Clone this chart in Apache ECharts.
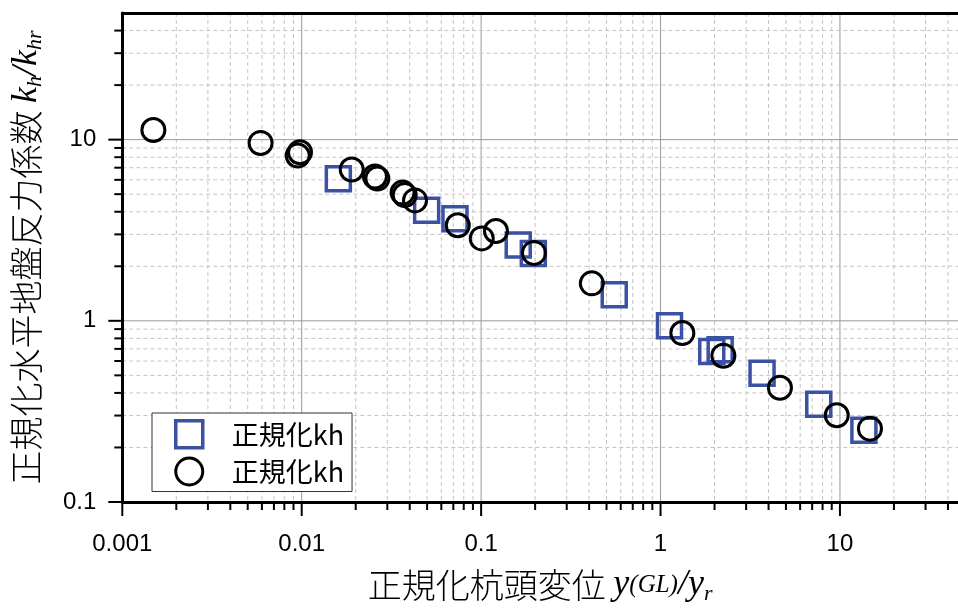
<!DOCTYPE html>
<html>
<head>
<meta charset="utf-8">
<script src="https://cdn.jsdelivr.net/npm/echarts@6/dist/echarts.min.js"></script>
<style>
  html, body { margin: 0; padding: 0; background: #fff; }
  #chart { width: 958px; height: 610px; }
</style>
</head>
<body>
<div id="chart"></div>
<script>
// 正規化kh (□)
const squareX = [0.016, 0.0497, 0.0715, 0.161, 0.1954, 0.552, 1.122, 1.93, 2.15, 3.68, 7.62, 13.6];
const squareY = [6.08, 4.07, 3.66, 2.62, 2.355, 1.394, 0.939, 0.678, 0.693, 0.514, 0.346, 0.249];
// 正規化kh (○)
const circleX = [0.00149, 0.0059, 0.0095, 0.00978, 0.019, 0.0256, 0.0264, 0.0365, 0.0375, 0.0428, 0.0741, 0.1008, 0.121, 0.197, 0.414, 1.323, 2.24, 4.63, 9.6, 14.7];
const circleY = [11.3, 9.59, 8.17, 8.52, 6.84, 6.26, 6.1, 5.1, 4.95, 4.62, 3.37, 2.85, 3.13, 2.37, 1.61, 0.856, 0.642, 0.427, 0.301, 0.254];

const xTicks = [0.001, 0.01, 0.1, 1, 10];
const xTickLabels = ['0.001', '0.01', '0.1', '1', '10'];
const yTicks = [0.1, 1, 10];
const yTickLabels = ['0.1', '1', '10'];
const minorSteps = [2, 3, 4, 5, 6, 7, 8, 9];
const xMax = 45.5, yMax = 50;

const seriesNames = ['正規化kh', '正規化kh '];

function minorOf(majors, max) {
  const out = [];
  majors.forEach(d => minorSteps.forEach(s => {
    const v = +(d * s).toPrecision(3);
    if (v < max) out.push(v);
  }));
  return out;
}
const xGuides = xTicks.map(v => [v, 1, 1]).concat(minorOf(xTicks, xMax).map(v => [v, 1, 0]));
const yGuides = yTicks.map(v => [1, v, 1]).concat(minorOf(yTicks, yMax).map(v => [1, v, 0]));

function labelFor(ticks, labels) {
  return v => {
    const i = ticks.findIndex(t => Math.abs(Math.log10(t) - Math.log10(v)) < 1e-6);
    return i >= 0 ? labels[i] : '';
  };
}

const majorGrid = { stroke: '#9a9a9a', lineWidth: 1 };
const minorGrid = { stroke: '#c4c4c4', lineWidth: 1, lineDash: [4, 3] };
const tickStyle = { stroke: '#000', lineWidth: 2 };

function renderXGuide(params, api) {
  const cs = params.coordSys;
  const x = api.coord([api.value(0), 1])[0];
  const major = api.value(2) === 1;
  const bottom = cs.y + cs.height;
  return {
    type: 'group',
    children: [
      { type: 'line', shape: { x1: x, y1: cs.y, x2: x, y2: bottom }, style: major ? majorGrid : minorGrid },
      { type: 'line', shape: { x1: x, y1: bottom, x2: x, y2: bottom + (major ? 14 : 8) }, style: tickStyle }
    ]
  };
}
function renderYGuide(params, api) {
  const cs = params.coordSys;
  const y = api.coord([1, api.value(1)])[1];
  const major = api.value(2) === 1;
  return {
    type: 'group',
    children: [
      { type: 'line', shape: { x1: cs.x, y1: y, x2: cs.x + cs.width, y2: y }, style: major ? majorGrid : minorGrid },
      { type: 'line', shape: { x1: cs.x, y1: y, x2: cs.x - (major ? 14 : 8), y2: y }, style: tickStyle }
    ]
  };
}

const chart = echarts.init(document.getElementById('chart'), null, { renderer: 'canvas' });

const axisFont = { fontFamily: 'Liberation Sans, Arial, sans-serif', fontSize: 24, color: '#000' };
const cjk = '"Noto Sans CJK JP", sans-serif';
const serif = '"Liberation Serif", "DejaVu Serif", serif';

chart.setOption({
  animation: false,
  backgroundColor: '#fff',
  grid: { left: 122.3, right: 0, top: 13, bottom: 107.5 },
  legend: {
    orient: 'vertical',
    left: 152,
    top: 413,
    padding: [6, 8, 5, 22],
    itemGap: 7,
    itemWidth: 27,
    itemHeight: 27,
    backgroundColor: '#fff',
    borderColor: '#333',
    borderWidth: 1,
    borderRadius: 0,
    formatter: n => n.trim(),
    textStyle: { fontFamily: cjk, fontSize: 27, color: '#000', padding: [0, 0, 0, 24] },
    data: [
      { name: seriesNames[0], icon: 'rect', itemStyle: { color: 'rgba(0,0,0,0)', borderColor: '#3b51a3', borderWidth: 3.5 } },
      { name: seriesNames[1], icon: 'circle', itemStyle: { color: 'rgba(0,0,0,0)', borderColor: '#000', borderWidth: 3 } }
    ]
  },
  xAxis: [{
    type: 'log', logBase: 10, min: 0.001, max: xMax, position: 'bottom', z: 5,
    axisLine: { lineStyle: { color: '#000', width: 3 } },
    axisTick: { show: false },
    splitLine: { show: false },
    minorTick: { show: false },
    axisLabel: Object.assign({ margin: 30, formatter: labelFor(xTicks, xTickLabels), showMaxLabel: false }, axisFont),
    name: '{c|正規化杭頭変位 }{i|y}{g|(GL)}{i|/y}{s|r}',
    nameLocation: 'middle',
    nameGap: 63,
    nameTextStyle: {
      rich: {
        c: { fontFamily: cjk, fontSize: 34, fontWeight: 300, color: '#000', lineHeight: 40 },
        i: { fontFamily: serif, fontStyle: 'italic', fontSize: 36, color: '#000', lineHeight: 40 },
        g: { fontFamily: serif, fontStyle: 'italic', fontSize: 25, color: '#000', lineHeight: 40 },
        s: { fontFamily: serif, fontStyle: 'italic', fontSize: 22, color: '#000', lineHeight: 18, verticalAlign: 'bottom' }
      }
    }
  }, {
    type: 'log', logBase: 10, min: 0.001, max: xMax, position: 'top', z: 5,
    axisLine: { lineStyle: { color: '#000', width: 3 } },
    axisTick: { show: false }, axisLabel: { show: false }, splitLine: { show: false }
  }],
  yAxis: {
    type: 'log', logBase: 10, min: 0.1, max: yMax, z: 5,
    axisLine: { lineStyle: { color: '#000', width: 3 } },
    axisTick: { show: false },
    splitLine: { show: false },
    minorTick: { show: false },
    axisLabel: Object.assign({ margin: 26, formatter: labelFor(yTicks, yTickLabels), showMaxLabel: false }, axisFont),
    name: '{c|正規化水平地盤反力係数 }{i|k}{s|h}{i|/k}{s|hr}',
    nameLocation: 'middle',
    nameRotate: 90,
    nameGap: 76,
    nameTextStyle: {
      rich: {
        c: { fontFamily: cjk, fontSize: 34, fontWeight: 300, color: '#000', lineHeight: 40 },
        i: { fontFamily: serif, fontStyle: 'italic', fontSize: 36, color: '#000', lineHeight: 40 },
        s: { fontFamily: serif, fontStyle: 'italic', fontSize: 22, color: '#000', lineHeight: 18, verticalAlign: 'bottom' }
      }
    }
  },
  series: [
    {
      type: 'custom', name: 'xGuides', silent: true, z: 1,
      dimensions: ['x', 'y', 'major'], encode: { x: 0, y: 1 },
      renderItem: renderXGuide, data: xGuides
    },
    {
      type: 'custom', name: 'yGuides', silent: true, z: 1,
      dimensions: ['x', 'y', 'major'], encode: { x: 0, y: 1 },
      renderItem: renderYGuide, data: yGuides
    },
    {
      type: 'scatter', name: seriesNames[0], z: 3,
      symbol: 'rect', symbolSize: 24,
      itemStyle: { color: 'rgba(0,0,0,0)', borderColor: '#3b51a3', borderWidth: 3.5, opacity: 1 },
      emphasis: { disabled: true },
      data: squareX.map((x, i) => [x, squareY[i]])
    },
    {
      type: 'scatter', name: seriesNames[1], z: 4,
      symbol: 'circle', symbolSize: 23,
      itemStyle: { color: 'rgba(0,0,0,0)', borderColor: '#000', borderWidth: 3, opacity: 1 },
      emphasis: { disabled: true },
      data: circleX.map((x, i) => [x, circleY[i]])
    }
  ]
});
</script>
</body>
</html>
